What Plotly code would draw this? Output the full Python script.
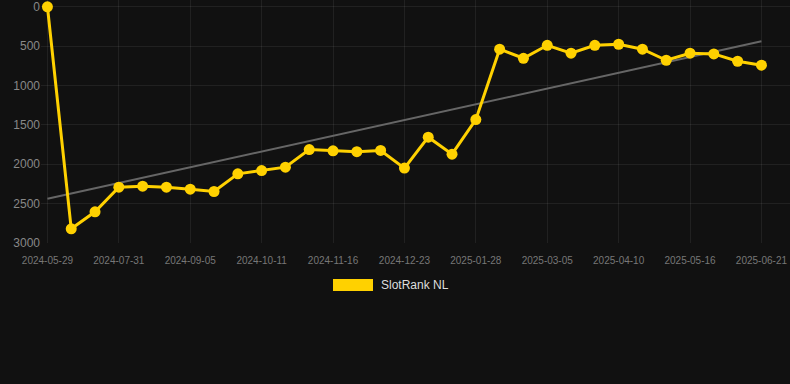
import numpy as np
import plotly.graph_objects as go

dates = [
    "2024-05-29", "2024-07-07", "2024-07-19", "2024-07-31", "2024-08-12", "2024-08-24",
    "2024-09-05", "2024-09-17", "2024-09-29", "2024-10-11", "2024-10-23", "2024-11-04",
    "2024-11-16", "2024-11-28", "2024-12-11", "2024-12-23", "2025-01-04", "2025-01-16",
    "2025-01-28", "2025-02-09", "2025-02-21", "2025-03-05", "2025-03-17", "2025-03-29",
    "2025-04-10", "2025-04-22", "2025-05-04", "2025-05-16", "2025-05-28", "2025-06-09",
    "2025-06-21",
]
rank = [
    0, 2820, 2604, 2291, 2278, 2291, 2316, 2346, 2122, 2080, 2037, 1813, 1830, 1840,
    1825, 2049, 1656, 1872, 1433, 539, 654, 489, 590, 489, 476, 539, 679, 590, 599,
    692, 742,
]
tick_labels = dates[::3]
y_ticks = [0, 500, 1000, 1500, 2000, 2500, 3000]
series_name = "SlotRank NL"

idx = np.arange(len(rank))
slope, intercept = np.polyfit(idx, rank, 1)
trend = slope * idx + intercept

fig = go.Figure()
fig.add_trace(go.Scatter(
    x=dates, y=trend, mode="lines",
    line=dict(color="#666666", width=2), showlegend=False, hoverinfo="skip",
))
fig.add_trace(go.Scatter(
    x=dates, y=rank, mode="lines+markers", name=series_name,
    line=dict(color="#FFD100", width=3),
    marker=dict(color="#FFD100", size=11),
    cliponaxis=False, showlegend=False,
))

# legend box (Chart.js style)
fig.add_shape(type="rect", xref="paper", yref="paper",
              x0=(333 - 41) / 749, x1=(373 - 41) / 749,
              y0=-(279 - 243) / 243, y1=-(291 - 243) / 243,
              fillcolor="#FFD100", line=dict(width=0))
fig.add_annotation(text=series_name, xref="paper", yref="paper",
                   x=(379 - 41) / 749, y=-(285 - 243) / 243,
                   xanchor="left", yanchor="middle", showarrow=False,
                   font=dict(color="#dddddd", size=12, family="Liberation Sans, Arial, sans-serif"))

grid = "rgba(255,255,255,0.07)"
fig.update_layout(
    width=790, height=384,
    margin=dict(l=41, r=0, t=0, b=141),
    paper_bgcolor="#111111", plot_bgcolor="#111111",
    font=dict(family="Liberation Sans, Arial, sans-serif", color="#888888"),
    xaxis=dict(
        type="category", categoryorder="array", categoryarray=dates,
        range=[-0.27, 31.2],
        tickmode="array", tickvals=tick_labels, ticktext=tick_labels,
        tickangle=0,
        showgrid=True, gridcolor=grid, zeroline=False, showline=False,
        tickfont=dict(size=10, color="#777777"),
        ticks="outside", ticklen=8, tickcolor="rgba(0,0,0,0)",
    ),
    yaxis=dict(
        range=[3000, -86], tickvals=y_ticks,
        showgrid=True, gridcolor=grid, zeroline=False, showline=False,
        tickfont=dict(size=12, color="#888888"), ticks="",
        ticklabeloverflow="allow",
    ),
    showlegend=False,
)

fig.write_html("out.html")
